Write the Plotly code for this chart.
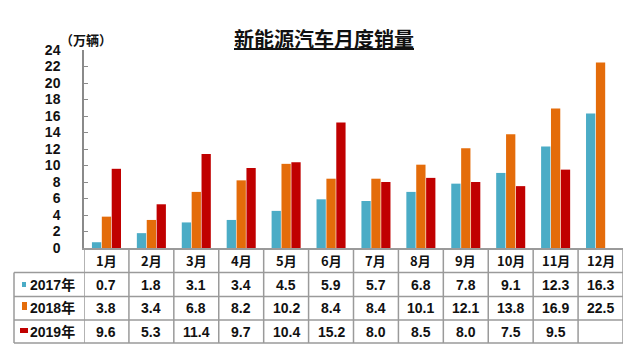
import plotly.graph_objects as go

# Monthly NEV sales, unit: 10k vehicles
months = ["1月", "2月", "3月", "4月", "5月", "6月", "7月", "8月", "9月", "10月", "11月", "12月"]
series_names = ["2017年", "2018年", "2019年"]
sales_2017 = [0.7, 1.8, 3.1, 3.4, 4.5, 5.9, 5.7, 6.8, 7.8, 9.1, 12.3, 16.3]
sales_2018 = [3.8, 3.4, 6.8, 8.2, 10.2, 8.4, 8.4, 10.1, 12.1, 13.8, 16.9, 22.5]
sales_2019 = [9.6, 5.3, 11.4, 9.7, 10.4, 15.2, 8.0, 8.5, 8.0, 7.5, 9.5, None]
y_ticks = list(range(0, 25, 2))

colors = ["#4BACC6", "#E46C0A", "#C00000"]
all_series = [sales_2017, sales_2018, sales_2019]

W, H = 629, 351
L, R, T, B = 84, 6, 50, 103
plot_h = H - T - B
plot_w = W - L - R


def py(px):
    """pixel row -> paper y"""
    return (H - B - px) / plot_h


def px_x(px):
    """pixel column -> paper x"""
    return (px - L) / plot_w


FONT = "Arial, Liberation Sans, Noto Sans CJK SC, sans-serif"
CJK = "Noto Sans CJK SC, sans-serif"

fig = go.Figure()
for name, vals, col in zip(series_names, all_series, colors):
    fig.add_trace(go.Bar(x=months, y=vals, name=name, marker=dict(color=col, line=dict(width=0))))

shapes = []
annotations = []
grid = dict(color="#9A9A9A", width=1.5)


def label(x, y, text, font, xref="paper"):
    return dict(x=x, y=y, xref=xref, yref="paper", text=text, showarrow=False,
                xanchor="center", yanchor="middle", font=font)


# table row boundaries (pixels)
row_edges = [248, 272.5, 296.5, 320, 343]
for yy in row_edges[1:]:
    shapes.append(dict(type="line", xref="paper", yref="paper", x0=px_x(14), x1=1,
                       y0=py(yy), y1=py(yy), line=grid))
for i in range(len(months) + 1):
    shapes.append(dict(type="line", xref="x", yref="paper", x0=i - 0.5, x1=i - 0.5,
                       y0=py(row_edges[0]), y1=py(row_edges[-1]), line=grid))
shapes.append(dict(type="line", xref="paper", yref="paper", x0=px_x(14), x1=px_x(14),
                   y0=py(row_edges[1]), y1=py(row_edges[-1]), line=grid))

# month headers
for i, m in enumerate(months):
    annotations.append(label(i, py((row_edges[0] + row_edges[1]) / 2), f"<b>{m}</b>",
                             dict(family=CJK, size=13, color="#111"), xref="x"))

# value cells and row labels
key_boxes = [(22, 26, 282, 287), (22, 27, 302, 310), (20, 28, 328, 333)]
for r, (name, vals, col) in enumerate(zip(series_names, all_series, colors)):
    yc = py((row_edges[r + 1] + row_edges[r + 2]) / 2)
    for i, v in enumerate(vals):
        if v is None:
            continue
        annotations.append(label(i, yc, f"<b>{v:.1f}</b>",
                                 dict(family=FONT, size=14, color="#111"), xref="x"))
    annotations.append(label(px_x(52), yc, f"<b>{name}</b>", dict(family=FONT, size=14, color="#111")))
    x0, x1, y0, y1 = key_boxes[r]
    shapes.append(dict(type="rect", xref="paper", yref="paper", x0=px_x(x0), x1=px_x(x1),
                       y0=py(y1), y1=py(y0), fillcolor=col, line=dict(width=0)))

# title and unit
annotations.append(label(px_x(324), py(39), "<b><u>新能源汽车月度销量</u></b>",
                         dict(family=CJK, size=20, color="#111")))
annotations.append(label(px_x(86), py(40), "<b>（万辆）</b>", dict(family=CJK, size=13, color="#111")))

fig.update_layout(
    width=W, height=H,
    margin=dict(l=L, r=R, t=T, b=B),
    paper_bgcolor="white", plot_bgcolor="white",
    barmode="group", bargap=0.34, bargroupgap=0.06,
    showlegend=False,
    shapes=shapes, annotations=annotations,
    xaxis=dict(showticklabels=False, showline=True, linecolor="#9A9A9A", linewidth=1.5,
               ticks="", showgrid=False, range=[-0.5, 11.5], fixedrange=True),
    yaxis=dict(range=[0, 24], tickvals=y_ticks, ticks="inside", ticklen=4, tickcolor="#8A8A8A",
               showline=True, linecolor="#8A8A8A", linewidth=1.5, showgrid=False, zeroline=False,
               ticklabelstandoff=19,
               tickfont=dict(family=FONT, size=14, color="#111", weight="bold")),
)

fig.write_html("out.html")
